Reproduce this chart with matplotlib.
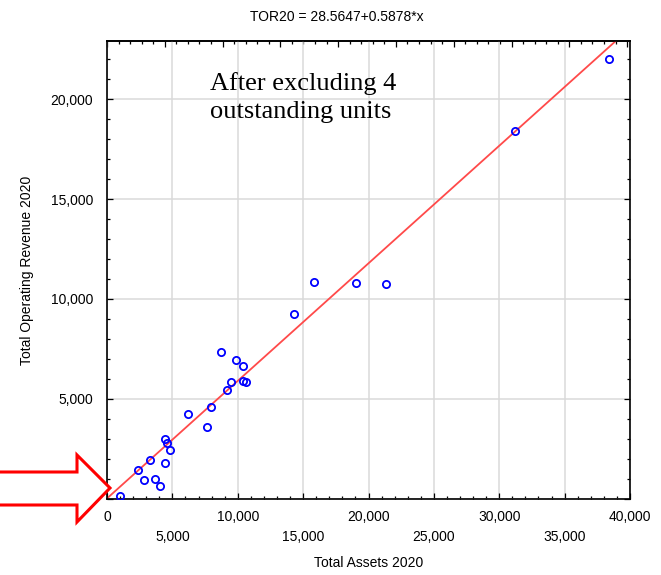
import numpy as np
import matplotlib
matplotlib.use("Agg")
import matplotlib.pyplot as plt
from matplotlib.patches import Polygon
from matplotlib.ticker import MultipleLocator, FuncFormatter

# total assets vs. total operating revenue, 2020 (4 outliers removed)
total_assets = [994, 2348, 2807, 3312, 3696, 4078, 4461, 4564, 4461, 4818,
                6220, 7648, 7980, 8719, 9841, 10427, 9458, 9178, 10375, 10631,
                14302, 15809, 19044, 21338, 31205, 38417]
total_revenue = [150, 1450, 935, 1935, 1000, 633, 3000, 2783, 1817, 2433,
                 4233, 3600, 4600, 7333, 6967, 6650, 5850, 5467, 5917, 5833,
                 9267, 10867, 10817, 10750, 18400, 21983]
x_ticks = list(range(0, 40001, 5000))

INTERCEPT = 28.5647
SLOPE = 0.5878

plt.rcParams['font.family'] = ['Liberation Sans', 'DejaVu Sans']
plt.rcParams['font.size'] = 10

W, H = 661, 575
fig = plt.figure(figsize=(W / 100, H / 100), dpi=100)
ax = fig.add_axes([107 / W, 1 - 499 / H, (630 - 107) / W, (499 - 41) / H])

ax.grid(True, color='#dadada', linewidth=1.1, zorder=0)

xfit = np.array([0, 40000])
ax.plot(xfit, INTERCEPT + SLOPE * xfit, color='#ff4a4a', linewidth=1.3, zorder=2)
ax.plot(total_assets, total_revenue, linestyle='none', marker='o',
        markersize=5.2, markerfacecolor='none', markeredgecolor='#0000ff',
        markeredgewidth=1.3, zorder=3)

comma = FuncFormatter(lambda v, p: f"{int(v):,}")
ax.set_xticks(x_ticks)
ax.xaxis.set_minor_locator(MultipleLocator(1000))
ax.yaxis.set_major_locator(MultipleLocator(5000))
ax.yaxis.set_minor_locator(MultipleLocator(1000))
ax.xaxis.set_major_formatter(comma)
ax.yaxis.set_major_formatter(comma)
ax.set_xlim(0, 40000)
ax.set_ylim(0, 22900)

ax.tick_params(which='both', direction='in', top=False, right=True,
               color='black', width=0.9)
ax.tick_params(which='major', length=4)
ax.tick_params(which='minor', length=2)
ax.tick_params(axis='y', which='major', pad=10)
ax.tick_params(axis='x', which='major', pad=8)

# staggered x labels: every other one drops to a second row
for i, tick in enumerate(ax.xaxis.get_major_ticks()):
    if i % 2 == 1:
        tick.set_pad(22)

# top axis carries its own tick scale
top = ax.secondary_xaxis('top', functions=(lambda x: x * 1.1313, lambda x: x / 1.1313))
top.xaxis.set_major_locator(MultipleLocator(5000))
top.xaxis.set_minor_locator(MultipleLocator(1000))
top.tick_params(which='both', direction='in', labeltop=False, width=0.9)
top.tick_params(which='major', length=4)
top.tick_params(which='minor', length=2)
top.spines['top'].set_linewidth(1.2)

for s in ax.spines.values():
    s.set_linewidth(1.2)

ax.set_xlabel("Total Assets 2020", labelpad=9)
ax.set_ylabel("Total Operating Revenue 2020", labelpad=12)

fig.text(337 / W, 1 - 17 / H, "TOR20 = 28.5647+0.5878*x", ha='center', va='center')

ax.text(210 / W, 1 - 72 / H, "After excluding 4\noutstanding units",
        transform=fig.transFigure, family='Liberation Serif', fontsize=19,
        ha='left', va='top', linespacing=1.35)

# outlined arrow pointing at the origin corner
arrow_px = [(-5, 472), (77, 472), (77, 455), (110, 488), (77, 522), (77, 505), (-5, 505)]
arrow = Polygon([(x / W, 1 - y / H) for x, y in arrow_px], closed=True,
                transform=fig.transFigure, facecolor='white', edgecolor='#ff0000',
                linewidth=2.2, clip_on=False, zorder=10)
fig.patches.append(arrow)

fig.savefig("out.png", dpi=100)
